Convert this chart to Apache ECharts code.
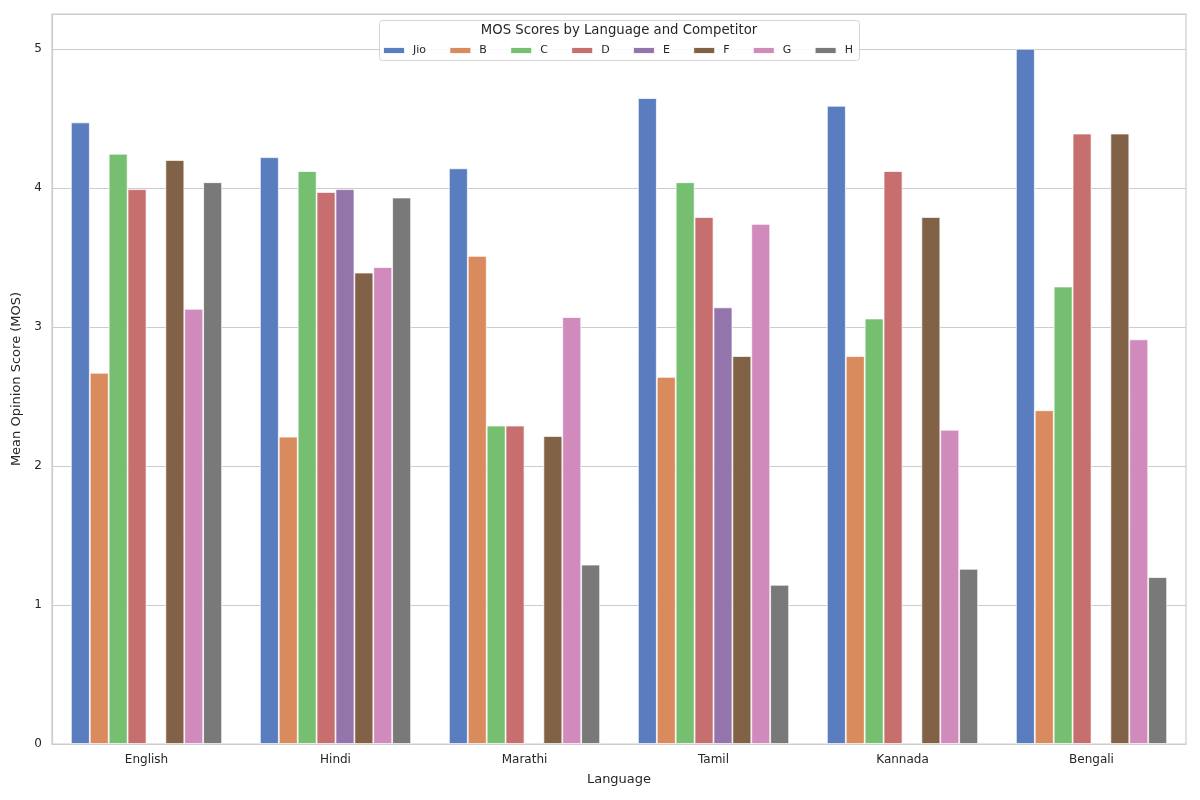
<!DOCTYPE html>
<html>
<head>
<meta charset="utf-8">
<script src="https://cdn.jsdelivr.net/npm/echarts@6/dist/echarts.min.js"></script>
<style>
html,body{margin:0;padding:0;background:#fff;}
#chart{width:1200px;height:800px;}
</style>
</head>
<body>
<div id="chart"></div>
<script>
const languages = ['English', 'Hindi', 'Marathi', 'Tamil', 'Kannada', 'Bengali'];
const competitors = ['Jio', 'B', 'C', 'D', 'E', 'F', 'G', 'H'];
const jio = [4.47, 4.22, 4.14, 4.645, 4.59, 5.00];
const compB = [2.67, 2.21, 3.51, 2.64, 2.79, 2.40];
const compC = [4.245, 4.12, 2.29, 4.04, 3.06, 3.29];
const compD = [3.99, 3.97, 2.29, 3.79, 4.12, 4.39];
const compE = [null, 3.99, null, 3.14, null, null];
const compF = [4.20, 3.39, 2.215, 2.79, 3.79, 4.39];
const compG = [3.13, 3.43, 3.07, 3.74, 2.26, 2.91];
const compH = [4.04, 3.93, 1.29, 1.145, 1.26, 1.20];
const yTicks = [0, 1, 2, 3, 4, 5];

const seriesValues = [jio, compB, compC, compD, compE, compF, compG, compH];
const colors = ['#597dbf', '#d98b5e', '#76bf71', '#c76e6e', '#9475ab', '#826246', '#d08abc', '#797979'];
const FONT = 'DejaVu Sans';

const chart = echarts.init(document.getElementById('chart'), null, {renderer: 'canvas'});
chart.setOption({
  backgroundColor: '#ffffff',
  animation: false,
  textStyle: {fontFamily: FONT, color: '#262626'},
  color: colors,
  grid: {left: 52, right: 14, top: 14, bottom: 56, show: true, borderColor: '#cccccc', borderWidth: 1.2, backgroundColor: 'transparent'},
  graphic: [
    {type: 'rect', left: 379, top: 20, z: 10,
     shape: {width: 480, height: 40, r: 3},
     style: {fill: 'rgba(255,255,255,0.85)', stroke: '#d6d6d6', lineWidth: 1}},
    {type: 'text', z: 11, x: 619, y: 31,
     style: {text: 'MOS Scores by Language and Competitor', fill: '#262626', font: '13.25px "DejaVu Sans"', textAlign: 'center', textVerticalAlign: 'middle'}}
  ],
  legend: {
    data: competitors,
    left: 382, top: 45, z: 12,
    padding: 0,
    itemWidth: 22, itemHeight: 7, itemGap: 22.3,
    icon: 'rect',
    textStyle: {fontFamily: FONT, fontSize: 11, color: '#262626', padding: [0, 0, 0, 3]}
  },
  xAxis: {
    type: 'category',
    data: languages,
    name: 'Language',
    nameLocation: 'middle',
    nameGap: 29,
    nameTextStyle: {fontFamily: FONT, fontSize: 13, color: '#262626'},
    axisLine: {show: true, lineStyle: {color: '#cccccc', width: 1.2}},
    axisTick: {show: false},
    axisLabel: {fontFamily: FONT, fontSize: 12, color: '#262626', margin: 10},
    splitLine: {show: false}
  },
  yAxis: {
    type: 'value',
    min: 0, max: 5.25, interval: 1,
    name: 'Mean Opinion Score (MOS)',
    nameLocation: 'middle',
    nameGap: 19,
    nameTextStyle: {fontFamily: FONT, fontSize: 13, color: '#262626'},
    axisLine: {show: true, lineStyle: {color: '#cccccc', width: 1.2}},
    axisTick: {show: false},
    axisLabel: {fontFamily: FONT, fontSize: 12, color: '#262626', margin: 10,
      formatter: v => (yTicks.indexOf(v) >= 0 ? String(v) : '')},
    splitLine: {show: true, lineStyle: {color: '#cccccc', width: 1.2}}
  },
  series: competitors.map((name, i) => ({
    name: name,
    type: 'bar',
    data: seriesValues[i],
    barGap: '0%',
    barCategoryGap: '20%',
    itemStyle: {color: colors[i], borderColor: 'rgba(255,255,255,0.9)', borderWidth: 0.8}
  }))
});
</script>
</body>
</html>
